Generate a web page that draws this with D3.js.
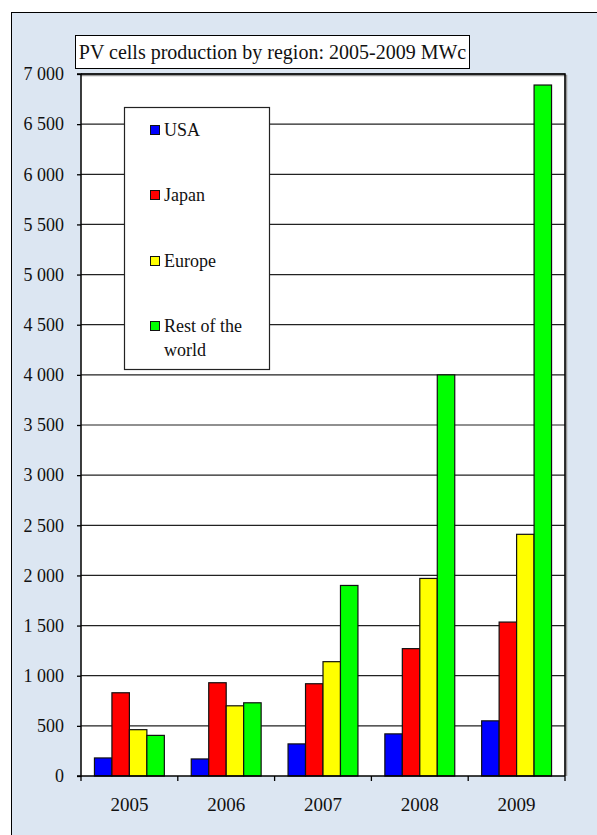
<!DOCTYPE html>
<html><head><meta charset="utf-8">
<script src="https://cdn.jsdelivr.net/npm/d3@7/dist/d3.min.js"></script>
<style>
html,body{margin:0;padding:0;background:#fff;}
svg, svg text{font-family:"Liberation Serif","Times New Roman",Times,serif !important;}
</style></head>
<body>
<script>
const years = ["2005","2006","2007","2008","2009"];
const seriesNames = ["USA","Japan","Europe","Rest of the world"];
const seriesColors = ["#0000ff","#ff0000","#ffff00","#00ff00"];
const usa    = [180, 170, 320, 420, 550];
const japan  = [830, 930, 920, 1270, 1535];
const europe = [462, 700, 1140, 1970, 2410];
const rest   = [405, 730, 1900, 4000, 6890];
const yTicks = [0,500,1000,1500,2000,2500,3000,3500,4000,4500,5000,5500,6000,6500,7000];
const title = "PV cells production by region: 2005-2009 MWc";

const seriesValues = [usa, japan, europe, rest];
const W = 597, H = 835;
const SERIF = '"Liberation Serif","Times New Roman",Times,serif';
const svg = d3.select("body").append("svg").attr("width", W).attr("height", H);

// outer frame
svg.append("rect").attr("x", 11.5).attr("y", 12.5).attr("width", W).attr("height", H)
  .attr("fill", "#dce6f2").attr("stroke", "#000").attr("stroke-width", 1);

const L = 81, R = 565, T = 74, B = 776;
const x0 = d3.scaleBand().domain(years).range([L, R]).padding(0);
const x1 = d3.scaleBand().domain(seriesNames).range([0, x0.bandwidth()]).paddingInner(0).paddingOuter(0.77);
const y = d3.scaleLinear().domain([0, 7000]).range([B, T]);

// plot area
svg.append("rect").attr("x", L).attr("y", T).attr("width", R - L).attr("height", B - T).attr("fill", "#fff");
// shadow of plot border
svg.append("path").attr("d", `M${L},${T+1.5}H${R+1.5}V${B}`).attr("fill","none").attr("stroke","#999").attr("stroke-width",1.5);

// gridlines
svg.append("g").selectAll("line").data(yTicks.filter(d => d > 0)).join("line")
  .attr("x1", L).attr("x2", R).attr("y1", d => y(d)).attr("y2", d => y(d))
  .attr("stroke", "#222").attr("stroke-width", 1.2);

// plot border top/right
svg.append("path").attr("d", `M${L},${T}H${R}V${B}`).attr("fill","none").attr("stroke","#000").attr("stroke-width",1.6);

// bars
const data = [];
years.forEach((yr, i) => seriesNames.forEach((s, j) => data.push({yr, s, j, v: seriesValues[j][i]})));
svg.append("g").selectAll("rect").data(data).join("rect")
  .attr("x", d => x0(d.yr) + x1(d.s))
  .attr("y", d => y(d.v))
  .attr("width", x1.bandwidth())
  .attr("height", d => y(0) - y(d.v))
  .attr("fill", d => seriesColors[d.j])
  .attr("stroke", "#111").attr("stroke-width", 1.2);

// y axis
const loc = d3.formatLocale({decimal: ".", thousands: " ", grouping: [3], currency: ["", ""]});
const fmt = loc.format(",d");
const yAxis = d3.axisLeft(y).tickValues(yTicks).tickFormat(fmt).tickSize(4).tickPadding(13);
const gy = svg.append("g").attr("transform", `translate(${L},0)`).call(yAxis).attr("font-family", SERIF);
gy.select(".domain").attr("stroke", "#000").attr("stroke-width", 1.5).attr("d", `M-4,${T}H0V${B}H-4`);
gy.selectAll(".tick line").attr("stroke", "#000").attr("stroke-width", 1.3);
gy.selectAll(".tick text").attr("font-size", 18).attr("fill", "#111").style("font-family", SERIF);

// x axis
const xAxis = d3.axisBottom(x0).tickSize(0).tickPadding(22);
const gx = svg.append("g").attr("transform", `translate(0,${B})`).call(xAxis).attr("font-family", SERIF);
gx.select(".domain").remove();
gx.selectAll(".tick text").attr("font-size", 19).attr("fill", "#111").style("font-family", SERIF);
svg.append("line").attr("x1", L).attr("x2", R).attr("y1", B).attr("y2", B).attr("stroke", "#000").attr("stroke-width", 1.5);
const bounds = years.map(d => x0(d)).concat([R]);
svg.append("g").selectAll("line").data(bounds).join("line")
  .attr("x1", d => d).attr("x2", d => d).attr("y1", B).attr("y2", B + 5)
  .attr("stroke", "#000").attr("stroke-width", 1.3);

// title
svg.append("rect").attr("x", 75.5).attr("y", 35.5).attr("width", 394).attr("height", 33)
  .attr("fill", "#fff").attr("stroke", "#000").attr("stroke-width", 1);
svg.append("text").attr("x", 272.5).attr("y", 59).attr("text-anchor", "middle")
  .attr("font-size", 20).attr("fill", "#111").style("font-family", SERIF).text(title);

// legend
svg.append("rect").attr("x", 124.5).attr("y", 107.5).attr("width", 145).attr("height", 262)
  .attr("fill", "#fff").attr("stroke", "#222").attr("stroke-width", 1.2);
const legY = [130, 195, 261, 326];
const lg = svg.append("g").selectAll("g").data(seriesNames).join("g")
  .attr("transform", (d, i) => `translate(150,${legY[i]})`);
lg.append("rect").attr("x", 0.5).attr("y", -4.5).attr("width", 9).attr("height", 9)
  .attr("fill", (d, i) => seriesColors[i]).attr("stroke", "#111").attr("stroke-width", 1);
lg.append("text").attr("x", 14).attr("y", 6).attr("font-size", 18).attr("fill", "#111")
  .style("font-family", SERIF)
  .each(function(d) {
    const t = d3.select(this);
    if (d === "Rest of the world") {
      t.append("tspan").attr("x", 14).attr("y", 6).text("Rest of the");
      t.append("tspan").attr("x", 14).attr("y", 30).text("world");
    } else {
      t.text(d);
    }
  });
</script>
</body></html>
